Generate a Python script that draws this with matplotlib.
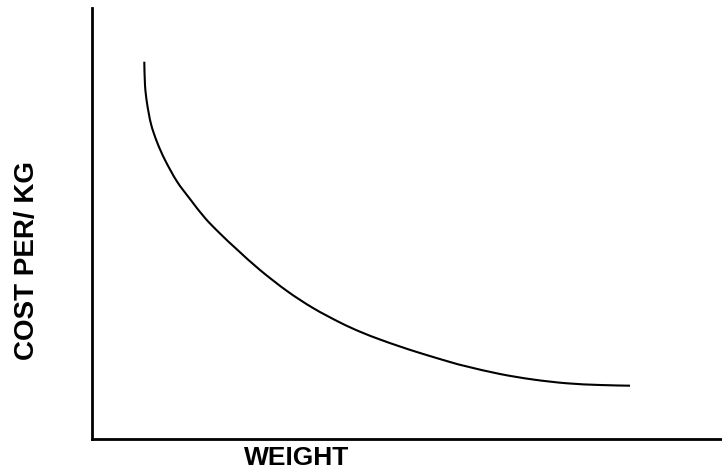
import matplotlib
matplotlib.use('Agg')
import matplotlib.pyplot as plt
from matplotlib.path import Path
from matplotlib.patches import PathPatch

# curve (arbitrary units)
weight = [52.3, 53, 55, 59, 65, 73, 85, 98, 113, 128, 145, 168, 195, 221,
          248, 268, 288, 308, 328, 358, 375, 408, 441, 475, 508, 538]
cost = [377.3, 354, 336, 315, 297, 279, 257.5, 240, 221, 205.5, 189.5, 169,
        148, 131, 116.5, 107.3, 99.5, 92.5, 86, 77, 72.5, 65, 59.5, 55.7, 54,
        53.3]

x_label = 'WEIGHT'
y_label = 'COST PER/ KG'

plt.rcParams['font.family'] = ['Liberation Sans', 'DejaVu Sans']

fig = plt.figure(figsize=(7.22, 4.74), dpi=100)
ax = fig.add_axes([92/722, (474-439)/474, 1 - 92/722, (439-8)/474])

# smooth line through the read points (catmull-rom drawn as cubic beziers)
pts = list(zip(weight, cost))
n = len(pts)
verts = [pts[0]]
codes = [Path.MOVETO]
for i in range(n - 1):
    p0 = pts[max(i - 1, 0)]
    p1 = pts[i]
    p2 = pts[i + 1]
    p3 = pts[min(i + 2, n - 1)]
    c1 = (p1[0] + (p2[0] - p0[0]) / 6, p1[1] + (p2[1] - p0[1]) / 6)
    c2 = (p2[0] - (p3[0] - p1[0]) / 6, p2[1] - (p3[1] - p1[1]) / 6)
    verts += [c1, c2, p2]
    codes += [Path.CURVE4] * 3
curve = PathPatch(Path(verts, codes), facecolor='none', edgecolor='black',
                  lw=1.5, capstyle='butt', transform=ax.transData)
ax.add_patch(curve)
ax.set_xlim(0, 630)
ax.set_ylim(0, 431)

for s in ['top', 'right']:
    ax.spines[s].set_visible(False)
for s in ['left', 'bottom']:
    ax.spines[s].set_linewidth(2)
ax.set_xticks([])
ax.set_yticks([])

fig.text(297/722, 1 - 458/474, x_label, fontsize=19, fontweight='bold',
         ha='center', va='center')
fig.text(27/722, 1 - 260/474, y_label, fontsize=20, fontweight='bold',
         ha='center', va='center', rotation=90)

fig.savefig('out.png', dpi=100)
